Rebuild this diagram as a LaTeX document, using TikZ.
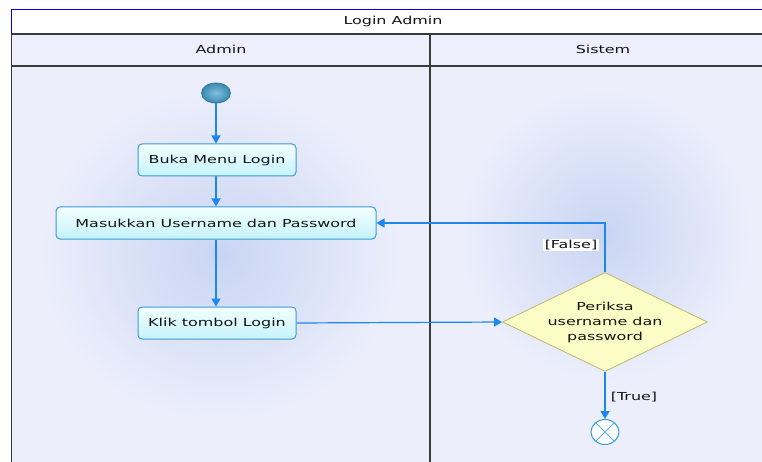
\documentclass[tikz,border=0pt]{standalone}
\usepackage{fontspec}
\newfontfamily\diafont[FakeStretch=1.45]{DejaVu Sans}
\usetikzlibrary{shapes.geometric,arrows.meta}
\definecolor{lanebg}{HTML}{ECEEFB}
\definecolor{glow}{HTML}{C8D5F3}
\definecolor{headbg}{HTML}{EEEEFC}
\definecolor{framegray}{HTML}{3A3A3A}
\definecolor{framblue}{HTML}{0000E6}
\definecolor{flow}{HTML}{1E86F0}
\definecolor{actborder}{HTML}{3A9AD9}
\definecolor{acttop}{HTML}{F2FFFF}
\definecolor{actbot}{HTML}{C6F3FC}
\definecolor{decfill}{HTML}{FCFCC6}
\definecolor{decborder}{HTML}{C4BE78}
\definecolor{txt}{HTML}{141414}
\definecolor{initin}{HTML}{82C0DC}
\definecolor{initout}{HTML}{3A88B0}
\definecolor{initborder}{HTML}{2A78A2}
\tikzset{
  every node/.style={font=\diafont\fontsize{11}{15}\selectfont, text=txt},
  action/.style={draw=actborder, line width=1pt, rounded corners=4pt,
    top color=acttop, bottom color=actbot, inner sep=0pt},
  decision/.style={diamond, draw=decborder, line width=0.9pt, fill=decfill,
    aspect=2.07, inner sep=0pt, minimum width=205pt, minimum height=99pt, align=center},
  flowline/.style={draw=flow, line width=1.2pt, -{Triangle[length=8pt,width=9pt]}},
  guard/.style={inner sep=1.5pt},
}
\begin{document}
\begin{tikzpicture}[x=1pt,y=-1pt]
\clip (0,0) rectangle (762,462);
\fill[white] (0,0) rectangle (762,462);
% lanes
\fill[lanebg] (11,66) rectangle (780,470);
\shade[inner color=glow, outer color=lanebg] (40,90) rectangle (400,420);
\shade[inner color=glow, outer color=lanebg] (460,90) rectangle (750,380);
% header
\fill[white] (11,9) rectangle (780,34);
\fill[headbg] (11,34) rectangle (780,66);
\draw[framegray, line width=1.6pt] (11,34) -- (780,34);
\draw[framegray, line width=1.6pt] (11,66) -- (780,66);
\draw[framegray, line width=1.4pt] (430,34) -- (430,470);
\draw[framegray, line width=1.4pt] (11.5,34) -- (11.5,470);
\draw[framblue, line width=1.3pt] (11.5,34) -- (11.5,9.5) -- (780,9.5);
\node (title) at (393,21) {Login Admin};
\node (ladmin) at (221,49) {Admin};
\node (lsistem) at (603,49) {Sistem};
% nodes
\node[ellipse, draw=initborder, line width=0.8pt, inner color=initin, outer color=initout,
  minimum width=29pt, minimum height=20pt, inner sep=0pt] (start) at (216,93) {};
\node[action, minimum width=158pt, minimum height=32pt] (buka) at (217,160) {Buka Menu Login};
\node[action, minimum width=320pt, minimum height=32pt] (masuk) at (216,223) {Masukkan Username dan Password};
\node[action, minimum width=158pt, minimum height=32pt] (klik) at (217,323) {Klik tombol Login};
\node[decision] (cek) at (605,322) {Periksa\\username dan\\password};
\node[ellipse, draw=actborder, line width=1pt, fill=white, minimum width=28pt, minimum height=25pt, inner sep=0pt] (stop) at (605,432) {};
\draw[actborder!80, line width=0.9pt] (stop.45) -- (stop.225) (stop.135) -- (stop.315);
% connectors
\draw[flowline] (start) -- (start |- buka.north);
\draw[flowline] (buka.south -| masuk) -- (masuk.north);
\draw[flowline] (masuk.south) -- (masuk.south |- klik.north);
\draw[flowline] (klik.east) -- (cek.west);
\draw[flowline] (cek.north) |- (masuk.east);
\draw[flowline] (cek.south) -- (stop.north);
\node[guard, fill=white] (lfalse) at (571,245) {[False]};
\node[guard] (ltrue) at (634,397) {[True]};
\end{tikzpicture}
\end{document}
